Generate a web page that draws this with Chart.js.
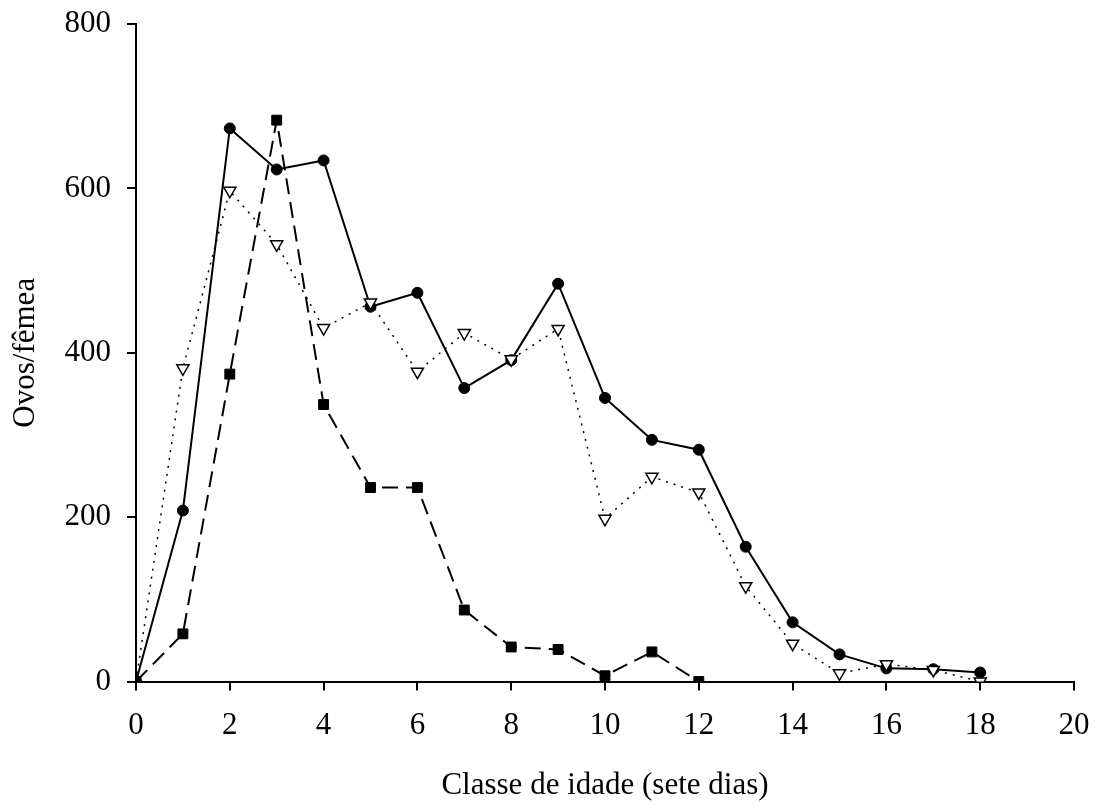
<!DOCTYPE html>
<html>
<head>
<meta charset="utf-8">
<script src="https://cdn.jsdelivr.net/npm/chart.js@4/dist/chart.umd.min.js"></script>
<style>
  html, body { margin: 0; padding: 0; background: #fff; }
  #wrap { width: 1103px; height: 804px; }
</style>
</head>
<body>
<div id="wrap"><canvas id="grafico"></canvas></div>
<script>
// classes de idade (semanas)
const idades = [0, 1, 2, 3, 4, 5, 6, 7, 8, 9, 10, 11, 12, 13, 14, 15, 16, 17, 18];

// ovos por fêmea em cada classe
const ovosCirculos = [0, 208, 673, 623, 634, 456, 473, 357, 391, 484, 345, 294, 282, 164, 72, 33, 16, 15, 11];
const ovosTriangulos = [0, 381, 597, 532, 430, 461, 377, 424, 392, 429, 198, 249, 230, 116, 46, 10, 21, 14, 0];
const ovosQuadrados = [0, 58, 374, 683, 337, 236, 236, 87, 42, 39, 7, 36, 0];

const ticksX = [0, 2, 4, 6, 8, 10, 12, 14, 16, 18, 20];
const ticksY = [0, 200, 400, 600, 800];

const pontos = (valores) => valores.map((v, i) => ({ x: idades[i], y: v }));

const fonte = { family: '"Liberation Serif", "Times New Roman", serif', size: 31 };

// sem folgas extras dos rótulos: a área do gráfico fica só com o padding do layout
const semFolga = (eixo) => {
    eixo.paddingTop = 0;
    eixo.paddingBottom = 0;
    eixo.paddingLeft = 0;
    eixo.paddingRight = 0;
};

new Chart(document.getElementById('grafico'), {
    type: 'line',
    data: {
        datasets: [
            {
                // desenhado por cima dos outros; sem marcador na origem
                label: 'triângulos',
                data: pontos(ovosTriangulos),
                borderColor: '#000',
                borderWidth: 1.5,
                borderDash: [2, 6],
                pointStyle: 'triangle',
                rotation: 180,
                pointRadius: (ctx) => (ctx.dataIndex === 0 ? 0 : 7),
                pointBackgroundColor: '#fff',
                pointBorderColor: '#000',
                pointBorderWidth: 1.5,
            },
            {
                label: 'quadrados',
                data: pontos(ovosQuadrados),
                borderColor: '#000',
                borderWidth: 2,
                borderDash: [16, 8],
                pointStyle: 'rect',
                pointRadius: 7,
                pointBackgroundColor: '#000',
                pointBorderColor: '#000',
                pointBorderWidth: 1,
            },
            {
                label: 'círculos',
                data: pontos(ovosCirculos),
                borderColor: '#000',
                borderWidth: 2,
                pointStyle: 'circle',
                pointRadius: 5.5,
                pointBackgroundColor: '#000',
                pointBorderColor: '#000',
                pointBorderWidth: 1,
            },
        ],
    },
    options: {
        responsive: true,
        maintainAspectRatio: false,
        animation: false,
        layout: { padding: { left: 0, right: 29, top: 24, bottom: 0 } },
        plugins: {
            legend: { display: false },
            tooltip: { enabled: false },
        },
        scales: {
            x: {
                type: 'linear',
                min: 0,
                max: 20,
                afterFit: (eixo) => { eixo.height = 122.5; semFolga(eixo); },
                afterBuildTicks: (eixo) => { eixo.ticks = ticksX.map((v) => ({ value: v })); },
                border: { color: '#000', width: 2 },
                grid: { drawOnChartArea: false, tickLength: 9, color: '#000', lineWidth: 2 },
                ticks: { color: '#000', font: fonte, padding: 17, maxRotation: 0 },
                title: {
                    display: true,
                    text: 'Classe de idade (sete dias)',
                    color: '#000',
                    font: fonte,
                    padding: { top: 0, bottom: 0 },
                },
            },
            y: {
                min: 0,
                max: 800,
                afterFit: (eixo) => { eixo.width = 136; semFolga(eixo); },
                afterBuildTicks: (eixo) => { eixo.ticks = ticksY.map((v) => ({ value: v })); },
                border: { color: '#000', width: 2 },
                grid: { drawOnChartArea: false, tickLength: 9, color: '#000', lineWidth: 2 },
                ticks: { color: '#000', font: fonte, padding: 16 },
                title: {
                    display: true,
                    text: 'Ovos/fêmea',
                    color: '#000',
                    font: fonte,
                    padding: { top: 7, bottom: 0 },
                },
            },
        },
    },
});
</script>
</body>
</html>
